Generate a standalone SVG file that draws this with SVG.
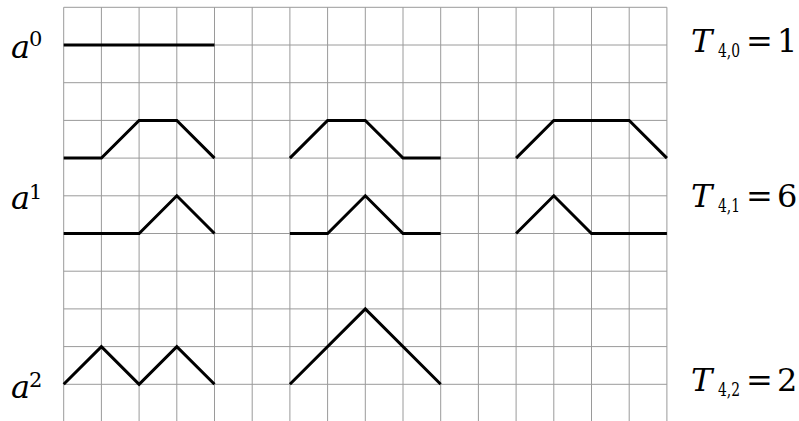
<svg xmlns="http://www.w3.org/2000/svg" width="799" height="421" viewBox="0 0 799 421">
<style>
.grid line{stroke:#9a9a9a;stroke-width:1}
.path{fill:none;stroke:#000;stroke-width:3;stroke-linejoin:miter;stroke-linecap:butt}
</style>
<rect width="799" height="421" fill="#fff"/>
<g id="grid" class="grid">
<line x1="63.7" y1="7.3" x2="63.7" y2="421"/>
<line x1="101.4" y1="7.3" x2="101.4" y2="421"/>
<line x1="139.1" y1="7.3" x2="139.1" y2="421"/>
<line x1="176.8" y1="7.3" x2="176.8" y2="421"/>
<line x1="214.5" y1="7.3" x2="214.5" y2="421"/>
<line x1="252.2" y1="7.3" x2="252.2" y2="421"/>
<line x1="289.9" y1="7.3" x2="289.9" y2="421"/>
<line x1="327.6" y1="7.3" x2="327.6" y2="421"/>
<line x1="365.3" y1="7.3" x2="365.3" y2="421"/>
<line x1="403" y1="7.3" x2="403" y2="421"/>
<line x1="440.7" y1="7.3" x2="440.7" y2="421"/>
<line x1="478.4" y1="7.3" x2="478.4" y2="421"/>
<line x1="516.1" y1="7.3" x2="516.1" y2="421"/>
<line x1="553.8" y1="7.3" x2="553.8" y2="421"/>
<line x1="591.5" y1="7.3" x2="591.5" y2="421"/>
<line x1="629.2" y1="7.3" x2="629.2" y2="421"/>
<line x1="666.9" y1="7.3" x2="666.9" y2="421"/>
<line x1="63.7" y1="7.3" x2="666.9" y2="7.3"/>
<line x1="63.7" y1="45" x2="666.9" y2="45"/>
<line x1="63.7" y1="82.7" x2="666.9" y2="82.7"/>
<line x1="63.7" y1="120.4" x2="666.9" y2="120.4"/>
<line x1="63.7" y1="158.1" x2="666.9" y2="158.1"/>
<line x1="63.7" y1="195.8" x2="666.9" y2="195.8"/>
<line x1="63.7" y1="233.5" x2="666.9" y2="233.5"/>
<line x1="63.7" y1="271.2" x2="666.9" y2="271.2"/>
<line x1="63.7" y1="308.9" x2="666.9" y2="308.9"/>
<line x1="63.7" y1="346.6" x2="666.9" y2="346.6"/>
<line x1="63.7" y1="384.3" x2="666.9" y2="384.3"/>
</g>
<g id="connectors">
<polyline id="p0" class="path" points="63.7,45 214.5,45"/>
<polyline id="p1a" class="path" points="63.7,158.1 101.4,158.1 139.1,120.4 176.8,120.4 214.5,158.1"/>
<polyline id="p1b" class="path" points="289.9,158.1 327.6,120.4 365.3,120.4 403,158.1 440.7,158.1"/>
<polyline id="p1c" class="path" points="516.1,158.1 553.8,120.4 629.2,120.4 666.9,158.1"/>
<polyline id="p1d" class="path" points="63.7,233.5 139.1,233.5 176.8,195.8 214.5,233.5"/>
<polyline id="p1e" class="path" points="289.9,233.5 327.6,233.5 365.3,195.8 403,233.5 440.7,233.5"/>
<polyline id="p1f" class="path" points="516.1,233.5 553.8,195.8 591.5,233.5 666.9,233.5"/>
<polyline id="p2a" class="path" points="63.7,384.3 101.4,346.6 139.1,384.3 176.8,346.6 214.5,384.3"/>
<polyline id="p2b" class="path" points="289.9,384.3 365.3,308.9 440.7,384.3"/>
</g>
<g font-family="'DejaVu Serif', 'Liberation Serif', serif" fill="#000">
<g id="label-a0"><text font-style="italic" font-size="32" x="11" y="58">a</text><text font-size="21" x="29" y="46">0</text></g>
<g id="label-a1"><text font-style="italic" font-size="32" x="11" y="209">a</text><text font-size="21" x="29" y="199">1</text></g>
<g id="label-a2"><text font-style="italic" font-size="32" x="11" y="398">a</text><text font-size="21" x="29" y="387">2</text></g>
<g id="label-T40"><text font-style="italic" font-size="32" x="691" y="52">T</text><text font-size="18" x="718" y="57" textLength="22" lengthAdjust="spacingAndGlyphs">4,0</text><text font-size="32" x="746" y="52">=</text><text font-size="32" x="777" y="52">1</text></g>
<g id="label-T41"><text font-style="italic" font-size="32" x="691" y="207">T</text><text font-size="18" x="718" y="212" textLength="22" lengthAdjust="spacingAndGlyphs">4,1</text><text font-size="32" x="746" y="207">=</text><text font-size="32" x="777" y="207">6</text></g>
<g id="label-T42"><text font-style="italic" font-size="32" x="691" y="391">T</text><text font-size="18" x="718" y="396" textLength="22" lengthAdjust="spacingAndGlyphs">4,2</text><text font-size="32" x="746" y="391">=</text><text font-size="32" x="777" y="391">2</text></g>
</g>
</svg>
